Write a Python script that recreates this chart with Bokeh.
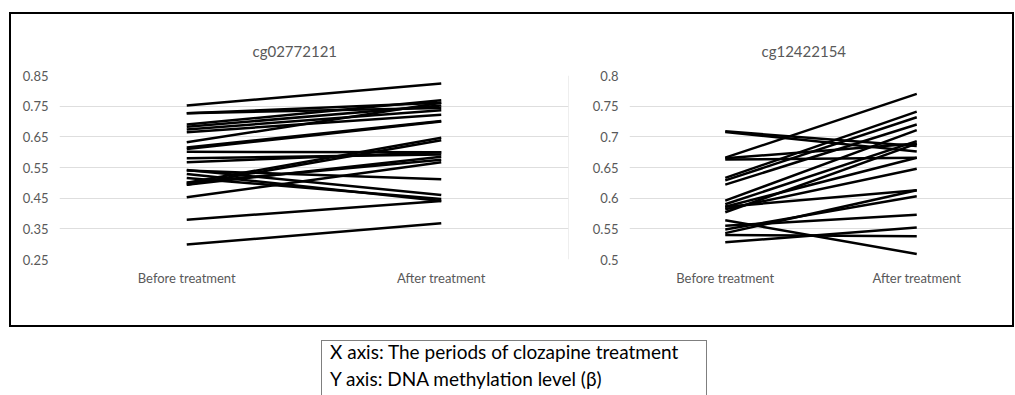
from bokeh.plotting import figure
from bokeh.layouts import column, row
from bokeh.models import Div, Spacer, FixedTicker, Span, Range1d, FactorRange
from bokeh.embed import file_html
from bokeh.resources import INLINE

categories = ["Before treatment", "After treatment"]

left_title = "cg02772121"
left_before = [0.752, 0.727, 0.727, 0.690, 0.683, 0.674, 0.665, 0.632, 0.615, 0.610,
               0.601, 0.580, 0.567, 0.542, 0.529, 0.540, 0.500, 0.494, 0.494, 0.500,
               0.453, 0.380, 0.299, 0.516]
left_after = [0.824, 0.744, 0.761, 0.769, 0.752, 0.737, 0.722, 0.761, 0.702, 0.700,
              0.600, 0.592, 0.600, 0.460, 0.441, 0.512, 0.647, 0.639, 0.585, 0.575,
              0.567, 0.441, 0.368, 0.447]
left_ticks = [0.25, 0.35, 0.45, 0.55, 0.65, 0.75, 0.85]
left_tick_labels = ["0.25", "0.35", "0.45", "0.55", "0.65", "0.75", "0.85"]

right_title = "cg12422154"
right_before = [0.709, 0.708, 0.666, 0.663, 0.665, 0.633, 0.629, 0.622, 0.596, 0.590,
                0.586, 0.582, 0.577, 0.586, 0.564, 0.555, 0.549, 0.543, 0.540, 0.528]
right_after = [0.685, 0.676, 0.770, 0.666, 0.689, 0.741, 0.732, 0.720, 0.711, 0.693,
               0.666, 0.648, 0.689, 0.613, 0.509, 0.573, 0.603, 0.613, 0.538, 0.552]
right_ticks = [0.5, 0.55, 0.6, 0.65, 0.7, 0.75, 0.8]
right_tick_labels = ["0.5", "0.55", "0.6", "0.65", "0.7", "0.75", "0.8"]

note_lines = ["X axis: The periods of clozapine treatment",
              "Y axis: DNA methylation level (\u03b2)"]

FONT = "Lato"
GRAY = "#595959"


def make_panel(title, before, after, ticks, tick_labels, width, mbl, mbr, title_offset, edge):
    p = figure(x_range=FactorRange(factors=categories),
               y_range=Range1d(ticks[0], ticks[-1]),
               width=width, height=311,
               output_backend="svg", toolbar_location=None,
               min_border_left=mbl, min_border_right=mbr,
               min_border_top=61, min_border_bottom=66)
    p.title.text = title
    p.title.align = "left"
    p.title.offset = title_offset
    p.title.standoff = 32
    p.title.text_font = FONT
    p.title.text_font_size = "15px"
    p.title.text_font_style = "normal"
    p.title.text_color = GRAY
    p.outline_line_color = None
    p.xgrid.visible = False
    p.ygrid.grid_line_color = "#dedede"
    p.ygrid.grid_line_width = 1

    p.yaxis.ticker = FixedTicker(ticks=ticks)
    p.yaxis.major_label_overrides = dict(zip(ticks, tick_labels))
    for ax in (p.xaxis[0], p.yaxis[0]):
        ax.axis_line_color = None
        ax.major_tick_line_color = None
        ax.minor_tick_line_color = None
        ax.major_tick_out = 0
        ax.major_tick_in = 0
        ax.major_label_text_font = FONT
        ax.major_label_text_font_size = "13px"
        ax.major_label_text_color = GRAY
    p.xaxis.major_label_standoff = 10
    p.yaxis.major_label_standoff = 11

    p.segment(x0=[categories[0]] * len(before), y0=before,
              x1=[categories[1]] * len(after), y1=after,
              line_color="black", line_width=2.5)
    if edge:
        p.add_layout(Span(location=2, dimension="height", line_color="#dedede", line_width=1))
    return p


p1 = make_panel(left_title, left_before, left_after, left_ticks, left_tick_labels,
                569, 48, 12, 193, True)
p2 = make_panel(right_title, right_before, right_after, right_ticks, right_tick_labels,
                432, 49, 0, 132, False)

box = row(p1, p2, styles={"border": "2px solid black"})

note = Div(text='<div style="margin-top:-3px">' + "<br>".join(note_lines) + "</div>",
           width=386, height=55,
           styles={"border": "1px solid #7f7f7f", "border-bottom": "none",
                   "font-family": FONT, "font-size": "19px", "line-height": "27px",
                   "padding-left": "8px", "color": "black", "overflow": "hidden",
                   "box-sizing": "border-box"})

layout = column(Spacer(height=12),
                row(Spacer(width=9), box),
                Spacer(height=8),
                row(Spacer(width=316), note))

open("out.html", "w").write(file_html(layout, INLINE))
